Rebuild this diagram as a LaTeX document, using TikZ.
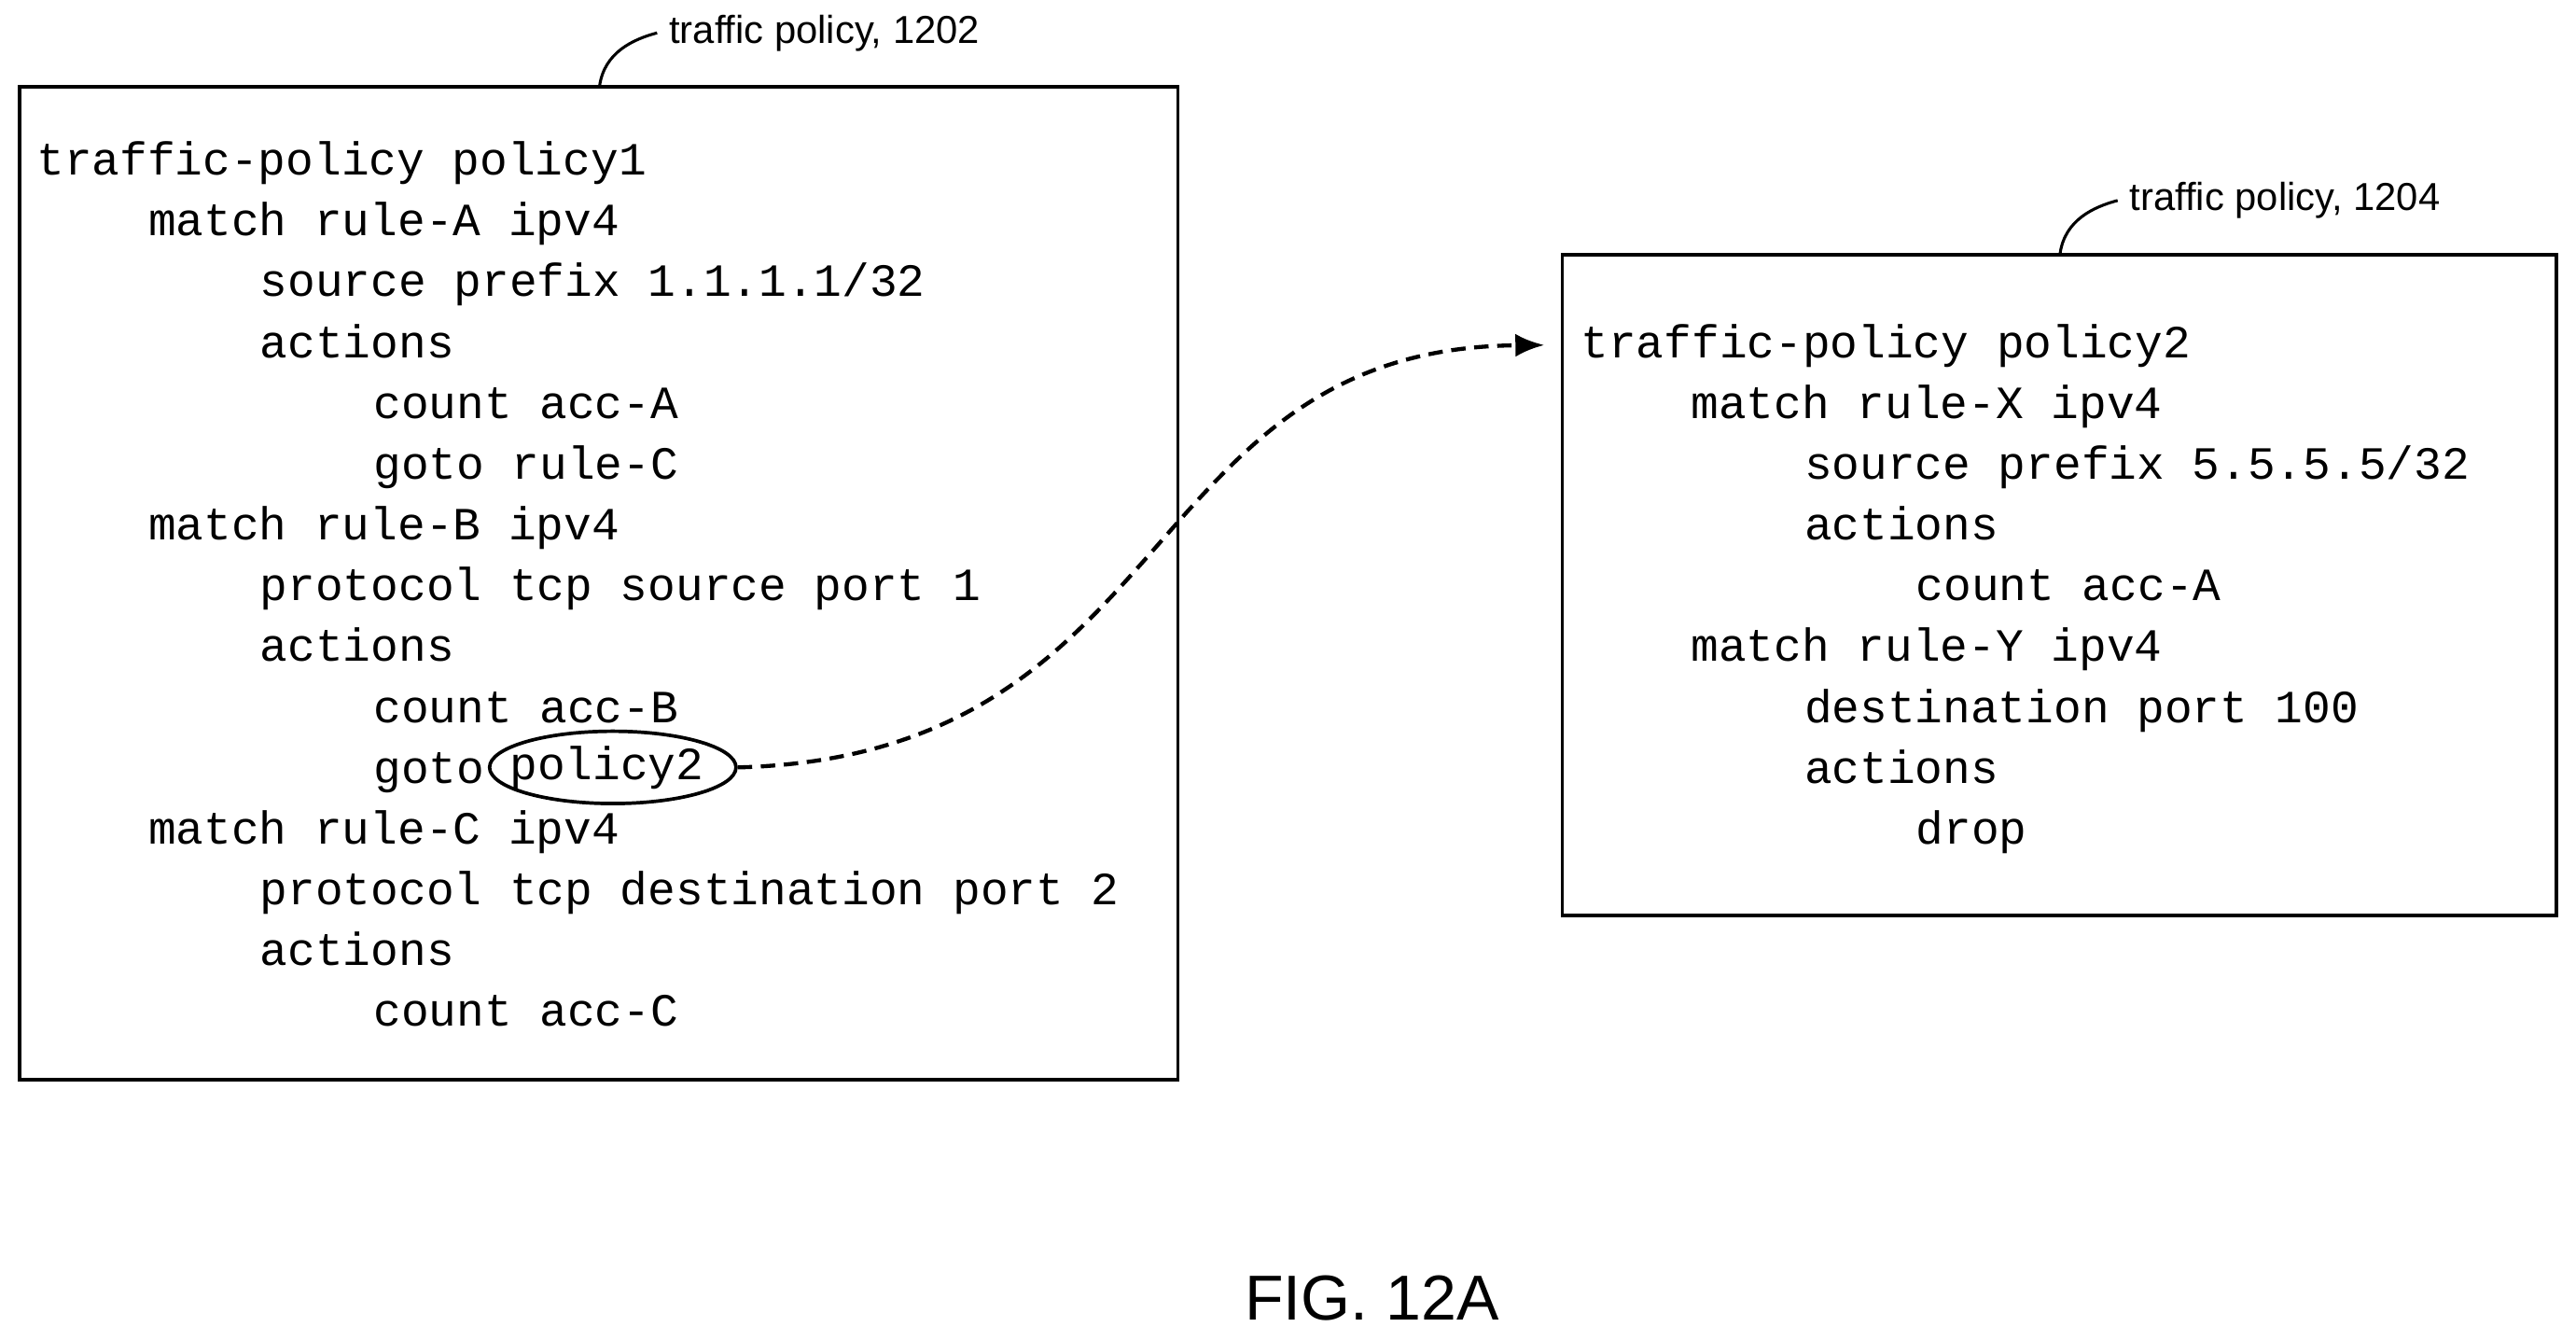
\documentclass[tikz,border=0pt]{standalone}
\usepackage{fontspec}
\setmainfont{Liberation Sans}
\newfontfamily\codefont{Liberation Mono}
\usetikzlibrary{shapes.geometric,arrows.meta}

\tikzset{
  codeline/.style={anchor=west,inner sep=0pt,text height=1.2ex,text depth=0pt,font=\codefont\fontsize{16}{18}\selectfont},
  policybox/.style={draw,line width=1.2pt},
  callout/.style={anchor=west,inner sep=0pt,font=\fontsize{13.5}{15}\selectfont},
  leader/.style={line width=1pt},
}

\begin{document}
\begin{tikzpicture}[x=0.02cm,y=-0.02cm]
\useasboundingbox (0,0) rectangle (1568,816);
% boxes
\draw[policybox] (12,53) rectangle (717,657);
\draw[policybox] (951,155) rectangle (1556,557);
% callouts
\node[callout] (lblA) at (407,20) {traffic policy, 1202};
\draw[leader] (365,52) .. controls (368,32) and (385,24) .. ([xshift=-4pt]lblA.west);
\node[callout] (lblB) at (1296,122) {traffic policy, 1204};
\draw[leader] (1254,154) .. controls (1257,134) and (1274,126) .. ([xshift=-4pt]lblB.west);
% policy1
\foreach \x/\t [count=\i] in {22/{traffic-policy policy1},90/{match rule-A ipv4},158/{source prefix 1.1.1.1/32},
  158/{actions},227/{count acc-A},227/{goto rule-C},90/{match rule-B ipv4},158/{protocol tcp source port 1},
  158/{actions},227/{count acc-B},227/{goto\phantom{ policy2}},90/{match rule-C ipv4},
  158/{protocol tcp destination port 2},158/{actions},227/{count acc-C}}
  \node[codeline] (p1l\i) at (\x,{101+37*(\i-1)}) {\t};
\node[codeline] (pol2) at (310,469) {policy2};
\node[draw,ellipse,line width=1.2pt,minimum width=150*0.02cm,minimum height=44*0.02cm] (ring) at (373,467) {};
% policy2
\foreach \x/\t [count=\i] in {962/{traffic-policy policy2},1029/{match rule-X ipv4},1098/{source prefix 5.5.5.5/32},
  1098/{actions},1166/{count acc-A},1029/{match rule-Y ipv4},1098/{destination port 100},1098/{actions},1166/{drop}}
  \node[codeline] (p2l\i) at (\x,{212+37*(\i-1)}) {\t};
\coordinate (tip) at (940,210);
\draw[line width=1.4pt,dash pattern=on 5pt off 3pt,-{Latex[length=10pt,width=8pt]}] (ring.east) .. controls (720,460) and (690,212) .. (tip);
% caption
\node[font=\fontsize{22}{26}\selectfont] (fig) at (835,790) {FIG. 12A};
\end{tikzpicture}
\end{document}
